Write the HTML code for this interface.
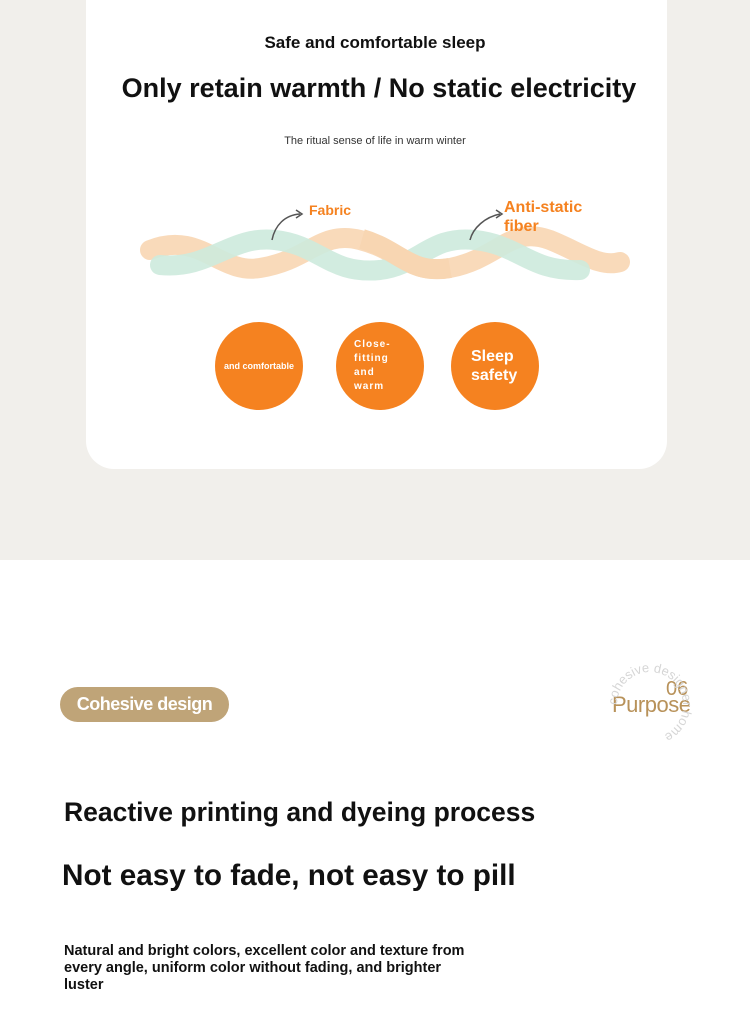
<!DOCTYPE html>
<html><head><meta charset="utf-8"><style>
body{margin:0;width:750px;height:1033px;position:relative;background:#fff;font-family:"Liberation Sans",sans-serif;overflow:hidden}
.top{position:absolute;left:0;top:0;width:750px;height:560px;background:#f1efeb}
.card{position:absolute;left:86px;top:0;width:581px;height:469px;background:#fff;border-radius:0 0 28px 28px}
.t{position:absolute;width:750px;text-align:center;left:0;color:#111;font-weight:bold}
.c{position:absolute;width:88px;height:88px;border-radius:50%;background:#f58220;color:#fff;font-weight:bold;display:flex;align-items:center;justify-content:center;text-align:center}
.abs{position:absolute;font-weight:bold}
</style></head><body>
<div class="top"></div>
<div class="card"></div>
<div class="t" style="top:33px;font-size:17px">Safe and comfortable sleep</div>
<div class="t" style="top:73px;font-size:27px;left:4px">Only retain warmth / No static electricity</div>
<div class="t" style="top:135px;font-size:11px;font-weight:normal;color:#333">The ritual sense of life in warm winter</div>
<svg style="position:absolute;left:0;top:0" width="750" height="470">
<path d="M150,250 C200,230 220,275 260,268 C310,260 320,230 360,240 C400,250 410,275 450,268 C500,258 510,225 550,240 C580,252 600,268 620,262" stroke="#f8d6b2" stroke-width="20" fill="none" stroke-linecap="round" opacity="0.9"/>
<path d="M160,265 C210,270 230,235 275,240 C320,245 330,275 380,270 C420,265 430,235 475,240 C520,245 530,272 580,270" stroke="#cdeadd" stroke-width="20" fill="none" stroke-linecap="round" opacity="0.9"/>
<path d="M362,239 C400,250 410,275 450,268" stroke="#f8d6b2" stroke-width="20" fill="none"/>
<path d="M272,240 C275,225 285,215 300,214" stroke="#555" stroke-width="1.5" fill="none"/>
<path d="M296,210 L302,214 L296,218" stroke="#555" stroke-width="1.5" fill="none"/>
<path d="M470,240 C473,228 485,217 500,214" stroke="#555" stroke-width="1.5" fill="none"/>
<path d="M496,210 L502,214 L496,218" stroke="#555" stroke-width="1.5" fill="none"/>
</svg>
<div class="abs" style="left:309px;top:202px;font-size:14px;color:#f58220">Fabric</div>
<div class="abs" style="left:504px;top:198px;font-size:16px;line-height:19px;color:#f58220">Anti-static<br>fiber</div>
<div class="c" style="left:215px;top:322px;font-size:9px">and comfortable</div>
<div class="c" style="left:336px;top:322px;font-size:10px;line-height:14px;justify-content:flex-start;padding-left:18px;box-sizing:border-box;text-align:left;letter-spacing:1px">Close-<br>fitting<br>and<br>warm</div>
<div class="c" style="left:451px;top:322px;font-size:16px;line-height:19px;justify-content:flex-start;padding-left:20px;box-sizing:border-box;text-align:left">Sleep<br>safety</div>
<div class="abs" style="left:60px;top:687px;width:169px;height:35px;border-radius:18px;background:#bfa478;color:#fff;font-size:18px;line-height:35px;text-align:center;letter-spacing:-0.5px">Cohesive design</div>
<div class="abs" style="left:612px;top:692px;font-size:22px;font-weight:normal;color:#b8925a;letter-spacing:-0.5px">Purpose</div>
<div class="abs" style="left:666px;top:678px;font-size:20px;font-weight:normal;color:#b8925a">06</div>
<svg style="position:absolute;left:605px;top:660px" width="90" height="90"><defs><path id="cp" d="M45,45 m-33,0 a33,33 0 1,1 66,0 a33,33 0 1,1 -66,0"/></defs><text font-size="13" fill="#d6d6d6" font-family="Liberation Sans"><textPath href="#cp" startOffset="0">cohesive designer home</textPath></text></svg>
<div class="abs" style="left:64px;top:797px;font-size:26.5px;color:#111;white-space:nowrap">Reactive printing and dyeing process</div>
<div class="abs" style="left:62px;top:859px;font-size:29.7px;color:#111;white-space:nowrap">Not easy to fade, not easy to pill</div>
<div class="abs" style="left:64px;top:943px;width:412px;font-size:14.5px;line-height:17px;color:#111">Natural and bright colors, excellent color and texture from every angle, uniform color without fading, and brighter luster</div>
</body></html>
